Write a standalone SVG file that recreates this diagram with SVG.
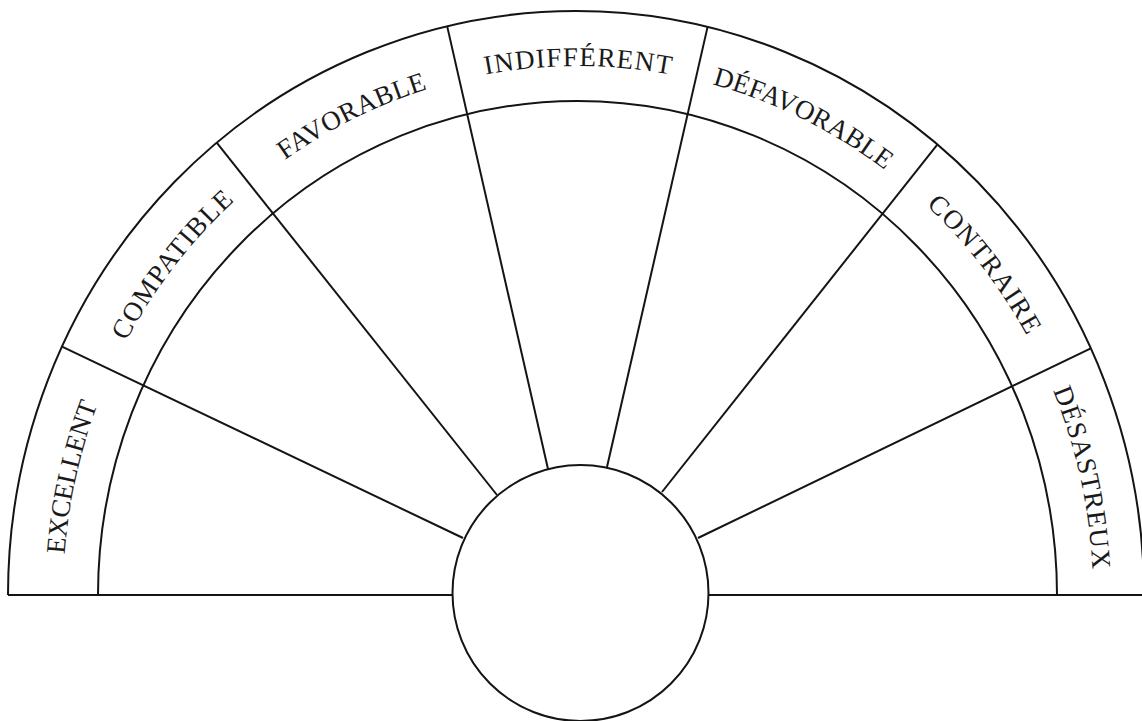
<svg xmlns="http://www.w3.org/2000/svg" width="1142" height="721" viewBox="0 0 1142 721">
<style>
.ln{fill:none;stroke:#141414;stroke-width:2;stroke-linecap:butt}
.lb{font-family:"Liberation Serif","DejaVu Serif",serif;font-size:27px;fill:#1a1a1a;text-anchor:middle}
</style>
<defs>
<path id="p0" d="M 85.9 750.9 A 515 529 0 0 1 200.5 235.2"/>
<path id="p1" d="M 68.8 516.2 A 515 529 0 0 1 389.9 102.6"/>
<path id="p2" d="M 152.5 297.0 A 515 529 0 0 1 616.5 67.5"/>
<path id="p3" d="M 320.5 136.9 A 515 529 0 0 1 835.5 136.9"/>
<path id="p4" d="M 539.5 67.5 A 515 529 0 0 1 1003.5 297.0"/>
<path id="p5" d="M 766.1 102.6 A 515 529 0 0 1 1087.2 516.2"/>
<path id="p6" d="M 955.5 235.2 A 515 529 0 0 1 1070.1 750.9"/>
</defs>
<rect width="1142" height="721" fill="#ffffff"/>
<g id="frame">
<path class="ln" d="M 8 595 A 568 584 0 0 1 1144 595"/>
<path class="ln" d="M 98 595 A 479.5 494 0 0 1 1057 595"/>
<path class="ln" d="M 8 595 H 452.5 M 708.5 595 H 1142"/>
</g>
<g id="connectors">
<line class="ln" x1="463" y1="538" x2="61.5" y2="346.3"/>
<line class="ln" x1="497" y1="495" x2="216.7" y2="142.7"/>
<line class="ln" x1="548" y1="469" x2="447.2" y2="26.4"/>
<line class="ln" x1="607" y1="467" x2="707.7" y2="26.4"/>
<line class="ln" x1="662" y1="492" x2="937.5" y2="144.4"/>
<line class="ln" x1="698" y1="538" x2="1090.8" y2="348.3"/>
</g>
<g id="center"><circle class="ln" cx="580.5" cy="593" r="128"/></g>
<g id="excellent"><text class="lb"><textPath href="#p0" startOffset="50%" textLength="154" lengthAdjust="spacing">EXCELLENT</textPath></text></g>
<g id="compatible"><text class="lb"><textPath href="#p1" startOffset="50%" textLength="178" lengthAdjust="spacing">COMPATIBLE</textPath></text></g>
<g id="favorable"><text class="lb"><textPath href="#p2" startOffset="50%" textLength="160" lengthAdjust="spacing">FAVORABLE</textPath></text></g>
<g id="indifferent"><text class="lb"><textPath href="#p3" startOffset="50%" textLength="186" lengthAdjust="spacing">INDIFFÉRENT</textPath></text></g>
<g id="defavorable"><text class="lb"><textPath href="#p4" startOffset="50%" textLength="194" lengthAdjust="spacing">DÉFAVORABLE</textPath></text></g>
<g id="contraire"><text class="lb"><textPath href="#p5" startOffset="50%" textLength="165" lengthAdjust="spacing">CONTRAIRE</textPath></text></g>
<g id="desastreux"><text class="lb"><textPath href="#p6" startOffset="50%" textLength="184" lengthAdjust="spacing">DÉSASTREUX</textPath></text></g>
</svg>
